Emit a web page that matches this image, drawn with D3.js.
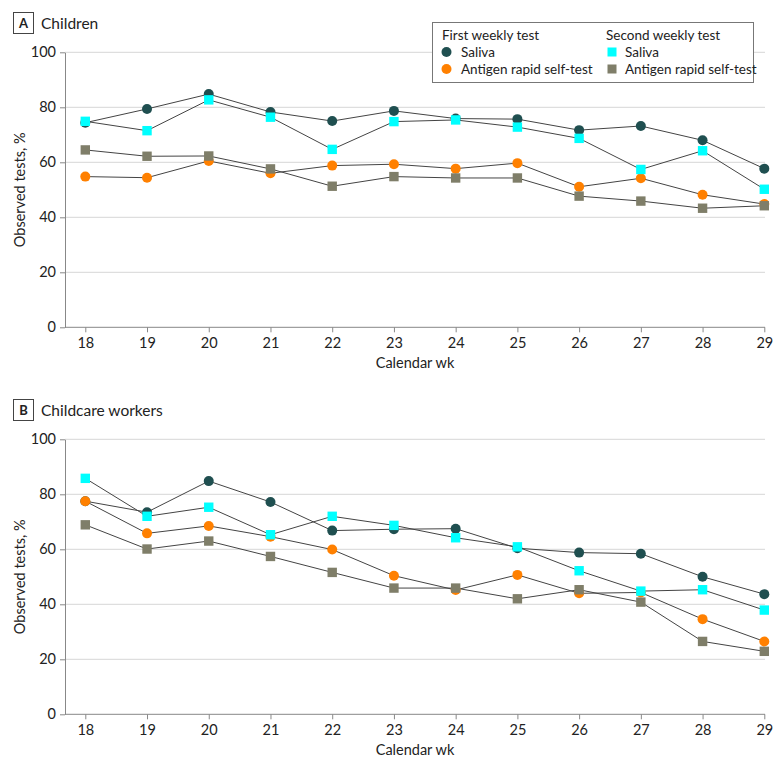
<!DOCTYPE html>
<html>
<head>
<meta charset="utf-8">
<script src="https://cdn.jsdelivr.net/npm/d3@7/dist/d3.min.js"></script>
<style>
  body { margin: 0; background: #fff; }
  text { font-family: Lato, "Open Sans", sans-serif; fill: #222; }
</style>
</head>
<body>
<svg id="chart" width="780" height="769"></svg>
<script>
const weeks = [18, 19, 20, 21, 22, 23, 24, 25, 26, 27, 28, 29];
const yTicks = [0, 20, 40, 60, 80, 100];

// Panel A: Children
const childrenSalivaFirst   = [74.4, 79.4, 84.8, 78.3, 75.0, 78.7, 75.9, 75.7, 71.7, 73.2, 68.0, 57.7];
const childrenAntigenFirst  = [54.8, 54.4, 60.5, 56.0, 58.8, 59.3, 57.7, 59.7, 51.1, 54.2, 48.2, 44.8];
const childrenSalivaSecond  = [74.9, 71.5, 82.7, 76.4, 64.7, 74.8, 75.4, 72.8, 68.7, 57.4, 64.2, 50.2];
const childrenAntigenSecond = [64.5, 62.2, 62.3, 57.6, 51.3, 54.8, 54.3, 54.3, 47.7, 45.9, 43.3, 44.2];

// Panel B: Childcare workers
const workersSalivaFirst   = [77.5, 73.5, 84.8, 77.2, 66.8, 67.3, 67.5, 60.4, 58.8, 58.4, 50.0, 43.7];
const workersAntigenFirst  = [77.5, 65.8, 68.5, 64.6, 59.9, 50.4, 45.2, 50.7, 44.0, 44.3, 34.6, 26.5];
const workersSalivaSecond  = [85.8, 72.0, 75.3, 65.3, 72.0, 68.7, 64.2, 60.9, 52.2, 44.8, 45.3, 37.9];
const workersAntigenSecond = [68.9, 60.1, 63.0, 57.4, 51.6, 45.9, 45.9, 42.0, 45.3, 40.8, 26.5, 22.9];

const seriesStyle = [
  { name: "Saliva", group: "first", shape: "circle", color: "#1f4f50" },
  { name: "Antigen rapid self-test", group: "first", shape: "circle", color: "#ff8000" },
  { name: "Saliva", group: "second", shape: "square", color: "#00ffff" },
  { name: "Antigen rapid self-test", group: "second", shape: "square", color: "#7f7e69" }
];

const panels = [
  { letter: "A", title: "Children", top: 0,
    data: [childrenSalivaFirst, childrenAntigenFirst, childrenSalivaSecond, childrenAntigenSecond] },
  { letter: "B", title: "Childcare workers", top: 387,
    data: [workersSalivaFirst, workersAntigenFirst, workersSalivaSecond, workersAntigenSecond] }
];

const svg = d3.select("#chart");
const x = d3.scaleLinear().domain([18, 29]).range([85.3, 764.3]);
const axisLeftX = 65, axisRightX = 765;

panels.forEach(p => {
  const g = svg.append("g").attr("transform", `translate(0,${p.top})`);
  const y = d3.scaleLinear().domain([0, 100]).range([327.3, 52.3]);

  // panel label
  g.append("rect").attr("x", 13.5).attr("y", 12.5).attr("width", 20).attr("height", 21)
    .attr("fill", "#fff").attr("stroke", "#444").attr("stroke-width", 1);
  g.append("text").attr("x", 23.5).attr("y", 28).attr("text-anchor", "middle")
    .attr("font-size", 13).attr("font-weight", "bold").text(p.letter);
  g.append("text").attr("x", 41).attr("y", 28.5).attr("font-size", 15.5).text(p.title);

  // gridlines
  g.append("g").selectAll("line").data(yTicks.filter(t => t > 0)).join("line")
    .attr("x1", axisLeftX).attr("x2", axisRightX)
    .attr("y1", d => y(d)).attr("y2", d => y(d))
    .attr("stroke", "#d6d6d6").attr("stroke-width", 1);

  // y axis
  const ya = g.append("g").attr("transform", `translate(${axisLeftX},0)`)
    .call(d3.axisLeft(y).tickValues(yTicks).tickSize(5).tickSizeOuter(0));
  ya.select(".domain").attr("stroke", "#888");
  ya.selectAll(".tick line").attr("stroke", "#888");
  ya.selectAll(".tick text").attr("font-size", 14.5).attr("font-family", "Lato, sans-serif")
    .attr("fill", "#222").attr("dx", "-1");

  // x axis
  const xa = g.append("g").attr("transform", `translate(0,${y(0)})`)
    .call(d3.axisBottom(x).tickValues(weeks).tickFormat(d3.format("d")).tickSize(5).tickSizeOuter(0));
  xa.select(".domain").remove();
  xa.append("line").attr("x1", axisLeftX).attr("x2", axisRightX).attr("y1", 0).attr("y2", 0)
    .attr("stroke", "#888");
  xa.selectAll(".tick line").attr("stroke", "#888");
  xa.selectAll(".tick text").attr("font-size", 14.5).attr("font-family", "Lato, sans-serif")
    .attr("fill", "#222").attr("dy", "0.85em");

  // axis titles
  g.append("text").attr("x", 415).attr("y", 368).attr("text-anchor", "middle")
    .attr("font-size", 14.5).text("Calendar wk");
  g.append("text").attr("transform", `translate(25,${(y(0) + y(100)) / 2}) rotate(-90)`)
    .attr("text-anchor", "middle").attr("font-size", 14.5).text("Observed tests, %");

  // lines
  const line = d3.line().x((d, i) => x(weeks[i])).y(d => y(d));
  p.data.forEach(vals => {
    g.append("path").datum(vals).attr("d", line)
      .attr("fill", "none").attr("stroke", "#444").attr("stroke-width", 1);
  });

  // markers
  p.data.forEach((vals, si) => {
    const st = seriesStyle[si];
    const mg = g.append("g");
    if (st.shape === "circle") {
      mg.selectAll("circle").data(vals).join("circle")
        .attr("cx", (d, i) => x(weeks[i])).attr("cy", d => y(d)).attr("r", 5)
        .attr("fill", st.color);
    } else {
      mg.selectAll("rect").data(vals).join("rect")
        .attr("x", (d, i) => x(weeks[i]) - 4.7).attr("y", d => y(d) - 4.7)
        .attr("width", 9.4).attr("height", 9.4)
        .attr("fill", st.color);
    }
  });
});

// legend (panel A)
const lg = svg.append("g");
lg.append("rect").attr("x", 432.5).attr("y", 22.5).attr("width", 321).attr("height", 60)
  .attr("fill", "#fff").attr("stroke", "#777").attr("stroke-width", 1);
const cols = [{ group: "first", title: "First weekly test", x: 442 },
              { group: "second", title: "Second weekly test", x: 606 }];
cols.forEach(c => {
  lg.append("text").attr("x", c.x).attr("y", 40).attr("font-size", 13.5).text(c.title);
  seriesStyle.filter(s => s.group === c.group).forEach((s, i) => {
    const cy = 52 + i * 17;
    if (s.shape === "circle") {
      lg.append("circle").attr("cx", c.x + 4.5).attr("cy", cy).attr("r", 5).attr("fill", s.color);
    } else {
      lg.append("rect").attr("x", c.x + 1.5).attr("y", cy - 4.5).attr("width", 9).attr("height", 9)
        .attr("fill", s.color);
    }
    lg.append("text").attr("x", c.x + 19).attr("y", cy + 4.5).attr("font-size", 13.5).text(s.name);
  });
});
</script>
</body>
</html>
